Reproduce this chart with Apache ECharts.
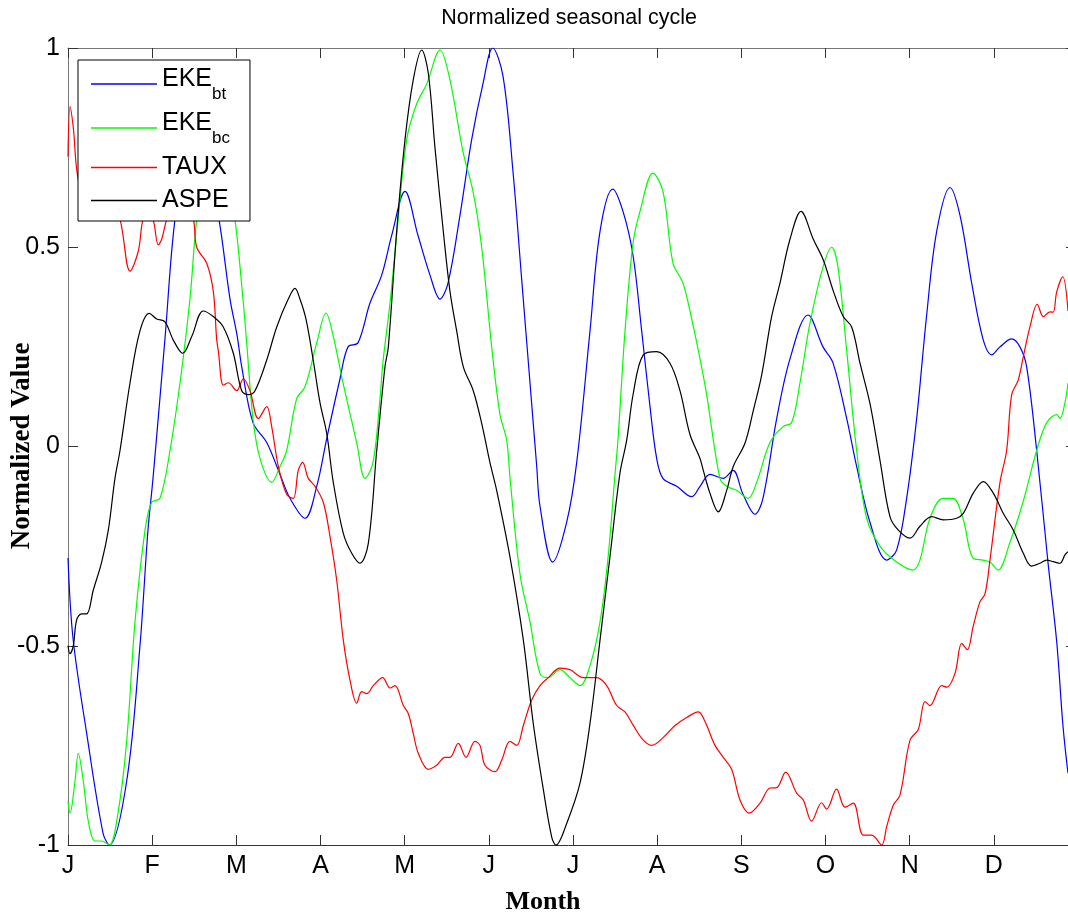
<!DOCTYPE html>
<html><head><meta charset="utf-8">
<script src="https://cdn.jsdelivr.net/npm/echarts@6/dist/echarts.min.js"></script>
<style>html,body{margin:0;padding:0;background:#fff}#c{width:1068px;height:917px}</style>
</head><body><div id="c"></div>
<script>
const monthLabels = ['J','F','M','A','M','J','J','A','S','O','N','D'];
const titleText = 'Normalized seasonal cycle';
const xName = 'Month';
const yName = 'Normalized Value';
const seriesNames = ['EKEbt','EKEbc','TAUX','ASPE'];
const legendParts = {EKEbt:['EKE','bt'], EKEbc:['EKE','bc'], TAUX:['TAUX',''], ASPE:['ASPE','']};
const seriesColors = ['#0000ff','#00ff00','#ff0000','#000000'];

// x = month position (0 = start of Jan), y = normalized value
const ekeBt = [[0,-0.28],[0.059,-0.48],[0.222,-0.72],[0.416,-0.97],[0.491,-1.0],[0.697,-0.84],[0.855,-0.50],[0.950,-0.21],[1.010,-0.08],[1.152,0.27],[1.271,0.57],[1.402,0.70],[1.533,0.74],[1.663,0.70],[1.794,0.57],[1.925,0.37],[2.008,0.28],[2.064,0.20],[2.198,0.06],[2.361,0.01],[2.519,-0.07],[2.638,-0.13],[2.816,-0.18],[2.955,-0.10],[3.074,0.02],[3.232,0.17],[3.327,0.25],[3.445,0.26],[3.588,0.36],[3.727,0.43],[3.846,0.53],[4.004,0.64],[4.158,0.53],[4.301,0.43],[4.420,0.37],[4.515,0.41],[4.657,0.58],[4.796,0.77],[4.930,0.91],[5.046,1.0],[5.168,0.93],[5.287,0.69],[5.390,0.42],[5.489,0.16],[5.569,-0.05],[5.608,-0.15],[5.759,-0.29],[5.925,-0.19],[6.044,-0.04],[6.202,0.29],[6.321,0.54],[6.472,0.646],[6.594,0.59],[6.713,0.48],[6.816,0.29],[6.915,0.10],[6.994,-0.03],[7.069,-0.08],[7.232,-0.10],[7.410,-0.126],[7.509,-0.10],[7.627,-0.07],[7.782,-0.08],[7.901,-0.06],[8.020,-0.12],[8.162,-0.17],[8.257,-0.13],[8.420,0.07],[8.578,0.22],[8.792,0.33],[8.970,0.25],[9.089,0.21],[9.252,0.07],[9.370,-0.05],[9.528,-0.19],[9.727,-0.285],[9.845,-0.26],[9.964,-0.13],[10.083,0.07],[10.202,0.33],[10.321,0.54],[10.479,0.65],[10.598,0.58],[10.737,0.41],[10.871,0.27],[10.974,0.23],[11.073,0.25],[11.212,0.27],[11.310,0.25],[11.390,0.20],[11.509,-0.01],[11.643,-0.29],[11.747,-0.49],[11.821,-0.70],[11.881,-0.82]];
const ekeBc = [[0,-0.89],[0.024,-0.92],[0.083,-0.84],[0.122,-0.77],[0.182,-0.84],[0.241,-0.94],[0.321,-0.99],[0.400,-0.99],[0.491,-1.0],[0.594,-0.92],[0.697,-0.74],[0.796,-0.44],[0.915,-0.21],[0.994,-0.14],[1.093,-0.13],[1.212,-0.01],[1.331,0.16],[1.449,0.37],[1.529,0.57],[1.640,0.72],[1.746,0.77],[1.865,0.72],[1.984,0.57],[2.079,0.37],[2.123,0.26],[2.198,0.07],[2.281,-0.03],[2.420,-0.09],[2.519,-0.05],[2.598,-0.01],[2.717,0.12],[2.816,0.15],[2.955,0.26],[3.065,0.335],[3.148,0.28],[3.267,0.16],[3.430,0.01],[3.529,-0.08],[3.624,-0.04],[3.707,0.12],[3.741,0.21],[3.826,0.36],[3.905,0.53],[4.024,0.77],[4.143,0.86],[4.262,0.91],[4.420,0.995],[4.538,0.92],[4.693,0.74],[4.812,0.64],[4.915,0.50],[5.034,0.25],[5.133,0.08],[5.212,0.016],[5.252,-0.08],[5.370,-0.32],[5.489,-0.44],[5.608,-0.57],[5.703,-0.58],[5.845,-0.56],[5.964,-0.58],[6.083,-0.60],[6.202,-0.55],[6.321,-0.44],[6.416,-0.28],[6.499,-0.07],[6.534,0.016],[6.618,0.29],[6.713,0.51],[6.796,0.59],[6.950,0.686],[7.069,0.64],[7.188,0.46],[7.307,0.41],[7.410,0.32],[7.509,0.22],[7.588,0.13],[7.746,-0.08],[7.826,-0.10],[7.944,-0.11],[8.079,-0.13],[8.182,-0.09],[8.340,0.01],[8.495,0.05],[8.598,0.06],[8.697,0.16],[8.816,0.31],[8.970,0.45],[9.073,0.50],[9.148,0.45],[9.252,0.24],[9.370,-0.01],[9.489,-0.18],[9.647,-0.25],[9.845,-0.29],[10.039,-0.31],[10.122,-0.285],[10.241,-0.18],[10.396,-0.13],[10.514,-0.13],[10.633,-0.18],[10.752,-0.28],[10.871,-0.285],[10.954,-0.29],[11.049,-0.31],[11.192,-0.24],[11.346,-0.14],[11.509,-0.01],[11.628,0.06],[11.747,0.08],[11.786,0.07],[11.845,0.11],[11.881,0.16]];
const taux = [[0,0.727],[0.024,0.853],[0.063,0.80],[0.122,0.67],[0.238,0.62],[0.380,0.64],[0.499,0.62],[0.618,0.57],[0.737,0.44],[0.835,0.49],[0.891,0.57],[0.950,0.58],[1.010,0.57],[1.073,0.506],[1.113,0.52],[1.173,0.57],[1.271,0.62],[1.390,0.62],[1.490,0.57],[1.529,0.50],[1.648,0.46],[1.726,0.39],[1.766,0.27],[1.786,0.24],[1.845,0.154],[1.905,0.16],[2.004,0.14],[2.083,0.17],[2.162,0.14],[2.261,0.07],[2.361,0.10],[2.420,0.05],[2.499,-0.05],[2.598,-0.12],[2.677,-0.13],[2.736,-0.06],[2.788,-0.04],[2.855,-0.08],[2.935,-0.10],[3.033,-0.14],[3.113,-0.226],[3.192,-0.335],[3.271,-0.486],[3.350,-0.586],[3.430,-0.644],[3.489,-0.615],[3.549,-0.62],[3.627,-0.60],[3.739,-0.58],[3.826,-0.606],[3.885,-0.60],[3.984,-0.65],[4.043,-0.67],[4.102,-0.72],[4.162,-0.77],[4.281,-0.81],[4.380,-0.80],[4.479,-0.78],[4.538,-0.78],[4.637,-0.745],[4.729,-0.78],[4.835,-0.74],[4.895,-0.75],[4.954,-0.80],[5.073,-0.816],[5.153,-0.787],[5.251,-0.74],[5.331,-0.75],[5.410,-0.70],[5.509,-0.636],[5.608,-0.60],[5.706,-0.58],[5.845,-0.556],[5.964,-0.56],[6.122,-0.58],[6.281,-0.58],[6.400,-0.60],[6.519,-0.65],[6.618,-0.666],[6.716,-0.70],[6.835,-0.737],[6.935,-0.75],[7.073,-0.73],[7.212,-0.70],[7.351,-0.68],[7.489,-0.666],[7.568,-0.69],[7.687,-0.75],[7.785,-0.78],[7.885,-0.81],[7.984,-0.887],[8.094,-0.92],[8.222,-0.895],[8.340,-0.857],[8.420,-0.856],[8.527,-0.817],[8.657,-0.87],[8.736,-0.887],[8.835,-0.94],[8.954,-0.894],[9.013,-0.91],[9.132,-0.86],[9.231,-0.905],[9.330,-0.895],[9.449,-0.975],[9.548,-0.975],[9.667,-1.0],[9.727,-0.954],[9.805,-0.90],[9.885,-0.875],[10.004,-0.737],[10.102,-0.71],[10.182,-0.64],[10.241,-0.65],[10.380,-0.60],[10.440,-0.604],[10.538,-0.57],[10.618,-0.494],[10.684,-0.51],[10.756,-0.45],[10.835,-0.39],[10.895,-0.37],[10.954,-0.285],[11.073,-0.09],[11.152,-0.01],[11.212,0.13],[11.290,0.167],[11.350,0.225],[11.429,0.30],[11.516,0.357],[11.588,0.326],[11.667,0.338],[11.706,0.337],[11.747,0.388],[11.818,0.426],[11.881,0.34]];
const aspe = [[0,-0.50],[0.024,-0.52],[0.063,-0.50],[0.103,-0.435],[0.163,-0.42],[0.222,-0.42],[0.301,-0.36],[0.400,-0.29],[0.479,-0.21],[0.558,-0.08],[0.618,-0.01],[0.737,0.16],[0.855,0.29],[0.966,0.334],[1.054,0.32],[1.152,0.313],[1.251,0.267],[1.363,0.234],[1.470,0.276],[1.607,0.34],[1.726,0.326],[1.845,0.30],[1.964,0.234],[2.064,0.14],[2.142,0.13],[2.222,0.14],[2.361,0.217],[2.480,0.30],[2.617,0.37],[2.697,0.397],[2.756,0.37],[2.827,0.32],[2.911,0.22],[2.994,0.11],[3.074,0.033],[3.152,-0.09],[3.271,-0.218],[3.371,-0.268],[3.469,-0.293],[3.568,-0.243],[3.668,-0.01],[3.766,0.20],[3.806,0.25],[3.905,0.54],[4.004,0.77],[4.102,0.92],[4.202,0.995],[4.281,0.936],[4.360,0.75],[4.459,0.54],[4.538,0.39],[4.618,0.29],[4.697,0.20],[4.815,0.14],[4.915,0.058],[5.013,-0.04],[5.093,-0.11],[5.251,-0.277],[5.410,-0.486],[5.528,-0.695],[5.647,-0.86],[5.747,-0.98],[5.798,-1.0],[5.925,-0.946],[6.083,-0.845],[6.202,-0.695],[6.321,-0.486],[6.439,-0.277],[6.558,-0.067],[6.638,0.016],[6.716,0.133],[6.835,0.23],[6.994,0.238],[7.152,0.209],[7.271,0.14],[7.390,0.03],[7.509,-0.03],[7.548,-0.06],[7.627,-0.117],[7.726,-0.164],[7.826,-0.11],[7.904,-0.05],[8.043,0.008],[8.142,0.09],[8.242,0.18],[8.360,0.326],[8.459,0.41],[8.578,0.52],[8.709,0.59],[8.855,0.52],[8.974,0.468],[9.093,0.39],[9.211,0.326],[9.311,0.30],[9.410,0.209],[9.528,0.108],[9.647,-0.034],[9.766,-0.176],[9.865,-0.21],[10.004,-0.23],[10.122,-0.20],[10.261,-0.176],[10.399,-0.184],[10.558,-0.18],[10.637,-0.168],[10.756,-0.117],[10.875,-0.088],[10.993,-0.117],[11.113,-0.168],[11.232,-0.21],[11.350,-0.268],[11.449,-0.30],[11.548,-0.293],[11.628,-0.285],[11.706,-0.289],[11.786,-0.293],[11.845,-0.272],[11.881,-0.264]];
const seriesData = [ekeBt, ekeBc, taux, aspe];

const FONT = '"Liberation Sans", Arial, sans-serif';
const SERIF = '"Liberation Serif", "Times New Roman", serif';
const chart = echarts.init(document.getElementById('c'), null, {renderer:'canvas'});

const tickStyle = {color:'#333', width:1};
const option = {
  animation: false,
  backgroundColor: '#fff',
  grid: {left: 68, top: 48, width: 1010, height: 797, containLabel: false, outerBoundsMode: 'none'},
  xAxis: [
    {type:'value', position:'bottom', min:0, max:12, interval:1,
     axisLine:{show:true, onZero:false, lineStyle:{color:'#333', width:1}},
     axisTick:{show:true, inside:true, length:10, lineStyle:tickStyle},
     axisLabel:{show:true, margin:9, fontSize:25, fontFamily:FONT, color:'#000',
       formatter: v => monthLabels[Math.round(v)] !== undefined && Math.abs(v-Math.round(v))<1e-6 ? monthLabels[Math.round(v)] : ''},
     splitLine:{show:false}},
    {type:'value', position:'top', min:0, max:12, interval:1,
     axisLine:{show:true, onZero:false, lineStyle:{color:'#777', width:1}},
     axisTick:{show:true, inside:true, length:10, lineStyle:tickStyle},
     axisLabel:{show:false}, splitLine:{show:false}}
  ],
  yAxis: [
    {type:'value', position:'left', min:-1, max:1, interval:0.5,
     axisLine:{show:true, onZero:false, lineStyle:{color:'#777', width:1}},
     axisTick:{show:true, inside:true, length:10, lineStyle:tickStyle},
     axisLabel:{show:true, margin:8, fontSize:25, fontFamily:FONT, color:'#000'},
     splitLine:{show:false}},
    {type:'value', position:'right', min:-1, max:1, interval:0.5,
     axisLine:{show:true, onZero:false, lineStyle:{color:'#777', width:1}},
     axisTick:{show:true, inside:true, length:12, lineStyle:tickStyle},
     axisLabel:{show:false}, splitLine:{show:false}}
  ],
  legend: {
    left: 78, top: 60, orient:'vertical', itemGap: 8,
    padding: [7, 20, 8, 13],
    backgroundColor:'#fff', borderColor:'#000', borderWidth:1, borderRadius:0,
    icon:'rect', itemWidth:66, itemHeight:1.5, selectedMode:false,
    data: seriesNames,
    formatter: name => {
      const p = legendParts[name];
      return p[1] ? '{b|' + p[0] + '}{s|' + p[1] + '}' : '{p|' + p[0] + '}';
    },
    textStyle: {
      color:'#000', fontFamily: FONT, fontSize: 25,
      rich: {
        b:{fontSize:25, fontFamily:FONT, color:'#000', padding:[2,0,0,0], verticalAlign:'top'},
        s:{fontSize:17, fontFamily:FONT, color:'#000', padding:[21,0,0,0], verticalAlign:'top'},
        p:{fontSize:25, fontFamily:FONT, color:'#000', padding:[2,0,2,0]}
      }
    }
  },
  graphic: [
    {type:'text', x:569, y:18, z:10,
     style:{text:titleText, font:'21.5px ' + FONT, fill:'#000', align:'center', verticalAlign:'middle', textAlign:'center', textVerticalAlign:'middle'}},
    {type:'text', x:543, y:902, z:10,
     style:{text:xName, font:'bold 26px ' + SERIF, fill:'#000', align:'center', verticalAlign:'middle', textAlign:'center', textVerticalAlign:'middle'}},
    {type:'text', x:22, y:446, rotation: Math.PI/2, z:10,
     style:{text:yName, font:'bold 27px ' + SERIF, fill:'#000', align:'center', verticalAlign:'middle', textAlign:'center', textVerticalAlign:'middle'}}
  ],
  series: seriesNames.map((n, i) => ({
    name: n, type:'line', data: seriesData[i], xAxisIndex:0, yAxisIndex:0,
    showSymbol:false, symbol:'none', smooth:0.35, clip:true,
    color: seriesColors[i],
    lineStyle:{color: seriesColors[i], width:1.2},
    itemStyle:{color: seriesColors[i]},
    emphasis:{disabled:true}
  }))
};
chart.setOption(option);
</script>
</body></html>
